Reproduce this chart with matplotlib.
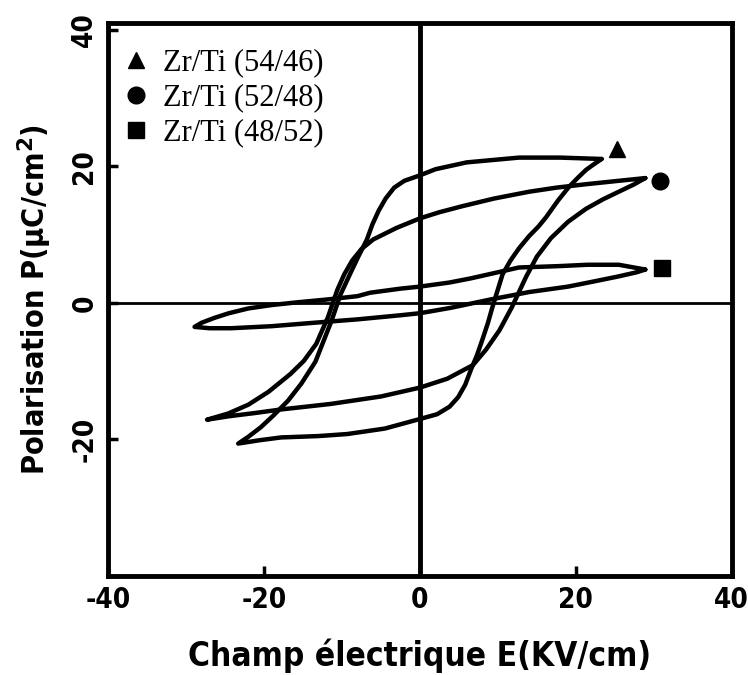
import matplotlib
matplotlib.use("Agg")
import matplotlib.pyplot as plt
from matplotlib.lines import Line2D

# ---- data ----
labels = ["Zr/Ti (54/46)", "Zr/Ti (52/48)", "Zr/Ti (48/52)"]
markers = ["^", "o", "s"]

# Zr/Ti 54/46 (triangle)
tri_down_E = [23.3, 18.0, 12.7, 6.0, 2.0, 0.0, -2.0, -3.3, -4.4, -5.3, -6.1, -6.8, -7.9, -8.9, -10.2, -11.3, -13.4, -15.2, -16.9, -18.8, -20.4, -22.0, -23.3]
tri_down_P = [21.1, 21.3, 21.3, 20.6, 19.6, 18.7, 17.9, 16.9, 15.3, 13.5, 11.5, 9.3, 6.8, 4.4, 1.2, -2.5, -8.6, -11.8, -14.3, -16.5, -18.2, -19.6, -20.6]
tri_up_E = [-23.3, -20.5, -17.8, -13.0, -9.3, -4.5, 0.0, 2.2, 3.8, 4.9, 5.8, 6.6, 7.3, 8.0, 8.7, 9.3, 10.0, 10.6, 11.6, 12.7, 14.0, 15.2, 16.2, 17.7, 19.1, 20.3, 21.3, 22.4, 23.3]
tri_up_P = [-20.6, -20.1, -19.7, -19.5, -19.2, -18.4, -17.0, -16.3, -15.2, -13.8, -12.0, -9.6, -7.7, -5.4, -3.0, -0.6, 2.0, 4.2, 6.2, 8.0, 9.8, 11.2, 12.6, 15.0, 17.0, 18.4, 19.5, 20.4, 21.1]

# Zr/Ti 52/48 (circle)
cir_down_E = [28.9, 25.5, 21.3, 17.5, 14.0, 9.5, 5.5, 2.5, 0.0, -3.0, -6.0, -7.5, -8.7, -9.7, -10.6, -11.8, -13.3, -14.9, -16.6, -19.4, -22.0, -24.6, -27.3]
cir_down_P = [18.3, 17.9, 17.4, 16.9, 16.3, 15.3, 14.2, 13.3, 12.4, 11.0, 9.3, 7.9, 6.2, 4.2, 1.9, -2.1, -6.0, -8.5, -10.4, -13.0, -14.9, -16.2, -17.1]
cir_up_E = [-27.3, -24.5, -21.0, -17.8, -11.5, -5.0, 0.0, 3.5, 6.8, 8.5, 10.2, 11.0, 11.8, 12.7, 13.6, 15.0, 16.8, 19.0, 21.3, 23.5, 25.5, 27.5, 28.9]
cir_up_P = [-17.1, -16.6, -16.1, -15.6, -14.8, -13.7, -12.4, -11.1, -9.1, -6.8, -4.0, -2.3, -0.6, 1.6, 3.8, 6.8, 9.5, 11.9, 13.8, 15.2, 16.3, 17.4, 18.3]

# Zr/Ti 48/52 (square)
sq_down_E = [28.9, 25.5, 21.5, 17.8, 12.7, 10.0, 6.5, 3.8, 0.0, -2.5, -6.4, -8.0, -12.0, -15.7, -19.0, -22.0, -24.5, -26.4, -28.0, -28.9]
sq_down_P = [4.9, 5.6, 5.6, 5.4, 5.2, 4.5, 3.6, 3.0, 2.4, 2.1, 1.5, 1.0, 0.5, 0.1, -0.3, -0.8, -1.5, -2.2, -2.9, -3.5]
sq_up_E = [-28.9, -27.0, -24.2, -19.0, -13.6, -8.0, -2.5, 0.0, 4.0, 9.0, 14.0, 19.0, 22.5, 25.5, 27.8, 28.9]
sq_up_P = [-3.5, -3.7, -3.7, -3.4, -2.9, -2.4, -1.8, -1.5, -0.7, 0.5, 1.6, 2.4, 3.2, 3.9, 4.5, 4.9]

# end markers
mark_E = [25.3, 30.8, 31.0]
mark_P = [22.5, 17.8, 5.1]

x_ticks = [-40, -20, 0, 20, 40]
y_ticks = [-40, -20, 0, 20, 40]
y_ticklabels = ["", "-20", "0", "20", "40"]

# ---- figure ----
fig = plt.figure(figsize=(7.48, 6.75), dpi=100)
ax = fig.add_axes([0.1444, 0.1467, 0.834, 0.819])

lw = 3.2
curves = [
    (tri_down_E, tri_down_P, tri_up_E, tri_up_P),
    (cir_down_E, cir_down_P, cir_up_E, cir_up_P),
    (sq_down_E, sq_down_P, sq_up_E, sq_up_P),
]
for dE, dP, uE, uP in curves:
    ax.plot(dE + uE, dP + uP, color="black", lw=lw, solid_joinstyle="round", solid_capstyle="round")

for e, p, m in zip(mark_E, mark_P, markers):
    ax.plot([e], [p], marker=m, color="black", markersize=12, linestyle="none")

ax.axvline(0, color="black", lw=3.5, zorder=1)
ax.axhline(0, color="black", lw=2.0, zorder=1)

ax.set_xlim(-40, 40)
ax.set_ylim(-40, 41)
ax.set_xticks(x_ticks)
ax.set_yticks(y_ticks)

for s in ax.spines.values():
    s.set_linewidth(3.5)

tick_font = dict(family="DejaVu Sans", weight="bold", stretch="condensed", size=20)
ax.set_xticklabels([str(v) for v in x_ticks], fontdict=tick_font)
ax.set_yticklabels(y_ticklabels, fontdict=tick_font, rotation=90, va="center")
ax.tick_params(direction="in", length=7, width=2.5, pad=7)

ax.set_xlabel("Champ électrique E(KV/cm)", fontsize=24, fontweight="bold",
              family="DejaVu Sans", fontstretch="condensed", labelpad=18)
ax.set_ylabel("Polarisation P(µC/cm$^\\mathbf{2}$)", fontsize=22, fontweight="bold",
              family="DejaVu Sans", fontstretch="condensed", labelpad=12)

handles = [Line2D([], [], marker=m, color="black", linestyle="none", markersize=12) for m in markers]
ax.legend(handles, labels, loc="upper left", bbox_to_anchor=(0.0, 0.982), frameon=False,
          prop=dict(family="Liberation Serif", size=22),
          handletextpad=0.5, labelspacing=0.2, borderaxespad=0.3, handlelength=0.8,
          borderpad=0.2)

fig.savefig("out.png", dpi=100)
